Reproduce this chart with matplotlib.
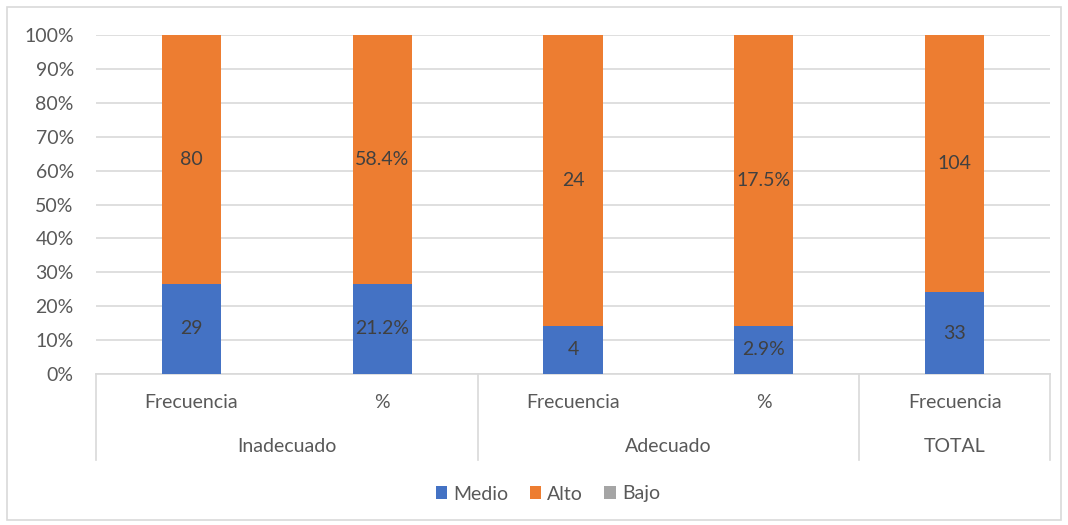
import matplotlib.pyplot as plt
import matplotlib.transforms as mtransforms
from matplotlib.patches import Rectangle
import numpy as np

plt.rcParams['font.family'] = ['Lato', 'DejaVu Sans']

# Data
categories = ['Frecuencia', '%', 'Frecuencia', '%', 'Frecuencia']
groups = ['Inadecuado', 'Adecuado', 'TOTAL']
group_sizes = [2, 2, 1]
medio = [29, 21.2, 4, 2.9, 33]
alto = [80, 58.4, 24, 17.5, 104]
bajo = [0, 0, 0, 0, 0]
medio_labels = ['29', '21.2%', '4', '2.9%', '33']
alto_labels = ['80', '58.4%', '24', '17.5%', '104']

colors = {'Medio': '#4472C4', 'Alto': '#ED7D31', 'Bajo': '#A5A5A5'}
text_color = '#595959'
grid_color = '#D9D9D9'
fs = 14

totals = np.array(medio) + np.array(alto) + np.array(bajo)
medio_pct = np.array(medio) / totals
alto_pct = np.array(alto) / totals
bajo_pct = np.array(bajo) / totals

fig = plt.figure(figsize=(10.68, 5.25), dpi=100)
ax = fig.add_axes([96 / 1068, 1 - 374 / 525, (1050 - 96) / 1068, (374 - 35) / 525])

x = np.arange(len(categories))
w = 0.31
b1 = ax.bar(x, medio_pct, w, color=colors['Medio'], label='Medio', zorder=3)
b2 = ax.bar(x, alto_pct, w, bottom=medio_pct, color=colors['Alto'], label='Alto', zorder=3)
b3 = ax.bar(x, bajo_pct, w, bottom=medio_pct + alto_pct, color=colors['Bajo'], label='Bajo', zorder=3)

for i in range(len(categories)):
    ax.text(x[i], medio_pct[i] / 2, medio_labels[i], ha='center', va='center',
            fontsize=fs, color='#404040', zorder=4)
    ax.text(x[i], medio_pct[i] + alto_pct[i] / 2, alto_labels[i], ha='center', va='center',
            fontsize=fs, color='#404040', zorder=4)

ax.set_xlim(-0.5, len(categories) - 0.5)
ax.set_ylim(0, 1)
ax.set_yticks(np.arange(0, 1.01, 0.1))
ax.set_yticklabels([f'{int(round(v * 100))}%' for v in np.arange(0, 1.01, 0.1)])
ax.yaxis.grid(True, color=grid_color, linewidth=1.2, zorder=0)
ax.tick_params(axis='y', length=0, pad=16, labelsize=fs, labelcolor=text_color)
ax.set_xticks([])
for s in ['top', 'right', 'left']:
    ax.spines[s].set_visible(False)
ax.spines['bottom'].set_color(grid_color)
ax.spines['bottom'].set_linewidth(1.2)

# multi-level category axis
trans = mtransforms.blended_transform_factory(ax.transData, ax.transAxes)
for i, c in enumerate(categories):
    ax.text(x[i], -0.085, c, transform=trans, ha='center', va='center',
            fontsize=fs, color=text_color)
start = 0
bounds = [-0.5]
for g, n in zip(groups, group_sizes):
    center = start + (n - 1) / 2
    ax.text(center, -0.215, g, transform=trans, ha='center', va='center',
            fontsize=fs, color=text_color)
    start += n
    bounds.append(start - 0.5)
for bx in bounds:
    ax.plot([bx, bx], [0, -0.254], transform=trans, color=grid_color,
            linewidth=1.2, clip_on=False)

fig.legend(handles=[b1, b2, b3], labels=['Medio', 'Alto', 'Bajo'], loc='center',
           bbox_to_anchor=(0.513, 1 - 494 / 525), ncol=3, frameon=False,
           fontsize=fs, labelcolor=text_color, handlelength=0.6, handleheight=0.6,
           handletextpad=0.3, columnspacing=1.1)

fig.patches.append(Rectangle((7 / 1068, 1 - 520 / 525), (1061 - 7) / 1068, (520 - 7) / 525,
                             transform=fig.transFigure, fill=False,
                             edgecolor=grid_color, linewidth=1.2))

fig.savefig('out.png', dpi=100)
